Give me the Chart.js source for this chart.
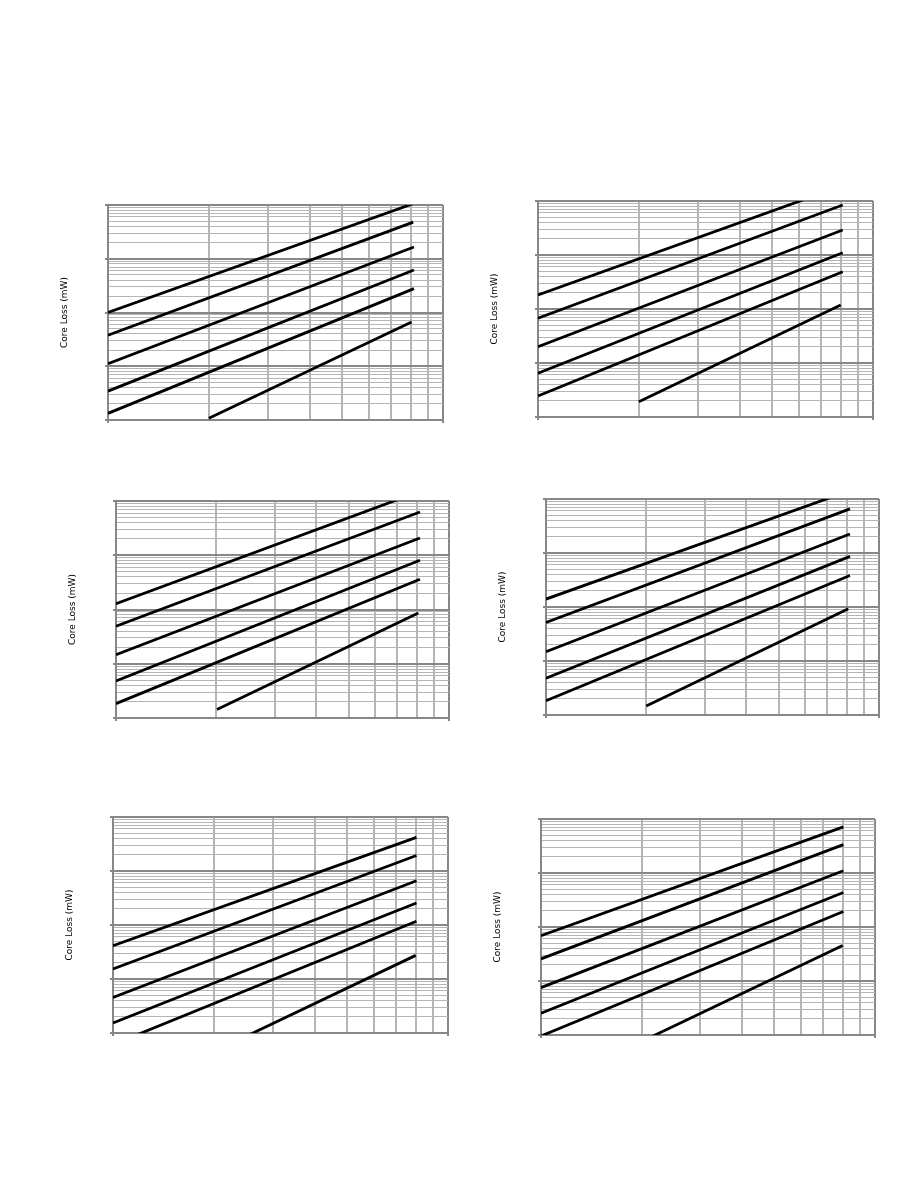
<!DOCTYPE html>
<html><head><meta charset="utf-8">
<script src="https://cdn.jsdelivr.net/npm/chart.js@4.4.1/dist/chart.umd.min.js"></script>
<style>
html,body{margin:0;padding:0;background:#fff;}
body{width:918px;height:1188px;position:relative;overflow:hidden;}
canvas.panel{position:absolute;}
</style></head><body>
<canvas id="c1" class="panel"></canvas>
<canvas id="c2" class="panel"></canvas>
<canvas id="c3" class="panel"></canvas>
<canvas id="c4" class="panel"></canvas>
<canvas id="c5" class="panel"></canvas>
<canvas id="c6" class="panel"></canvas>
<script>
// ---- data ----
const xTicks = [10, 20, 30, 40, 50, 60, 70, 80, 90, 100];
const yTicks = [0.1,0.2,0.3,0.4,0.5,0.6,0.7,0.8,0.9,
                1,2,3,4,5,6,7,8,9,
                10,20,30,40,50,60,70,80,90,
                100,200,300,400,500,600,700,800,900,1000];
const yTitle = 'Core Loss (mW)';
// each row: [x start, loss at start, x end, loss at end]
const panel1 = [
  [10, 10.0, 81.4, 1057],
  [10, 3.78, 81.5, 479],
  [10, 1.11, 81.9, 165],
  [10, 0.345, 81.9, 61.7],
  [10, 0.133, 81.9, 27.8],
  [20, 0.108, 80.6, 6.68]
];
const panel2 = [
  [10, 18.2, 81.4, 1929],
  [10, 6.73, 81.2, 843],
  [10, 2.00, 81.2, 290],
  [10, 0.644, 81.2, 110],
  [10, 0.245, 81.2, 49.1],
  [20, 0.192, 80.1, 11.9]
];
const panel3 = [
  [10, 12.8, 81.8, 1503],
  [10, 4.90, 81.8, 627],
  [10, 1.47, 81.8, 208],
  [10, 0.481, 81.8, 80.7],
  [10, 0.184, 81.8, 36.0],
  [20.1, 0.144, 80.9, 8.61]
];
const panel4 = [
  [10, 14.0, 81.3, 1413],
  [10, 5.16, 81.8, 655],
  [10, 1.49, 81.8, 225],
  [10, 0.480, 81.8, 86.5],
  [10, 0.184, 81.8, 38.4],
  [20, 0.147, 80.9, 9.26]
];
const panel5 = [
  [10, 4.14, 80.5, 419],
  [10, 1.53, 80.5, 194],
  [10, 0.456, 80.5, 66.1],
  [10, 0.153, 80.5, 25.5],
  [10, 0.0612, 80.5, 11.7],
  [20, 0.0451, 80.1, 2.74]
];
const panel6 = [
  [10, 6.87, 80.4, 713],
  [10, 2.57, 80.4, 335],
  [10, 0.755, 80.4, 110],
  [10, 0.253, 80.4, 43.6],
  [10, 0.0958, 80.4, 19.4],
  [20, 0.0757, 80.0, 4.54]
];

// ---- layout (plot area left, top, width, height) ----
const plotBoxes = [
  [108, 205, 335, 215],
  [538, 201, 335, 216],
  [116, 501, 333, 217],
  [546, 499, 333, 216],
  [113, 817, 335, 216],
  [541, 819, 334, 216]
];
const panels = [panel1, panel2, panel3, panel4, panel5, panel6];

const DARK = '#878787';
const LIGHT = '#b5b5b5';
const isDecade = v => Math.abs(Math.log10(v) - Math.round(Math.log10(v))) < 1e-9;
const tickDec = ctx => ctx.tick ? isDecade(ctx.tick.value) : true;

panels.forEach((rows, i) => {
  const [L, T, W, H] = plotBoxes[i];
  const cv = document.getElementById('c' + (i + 1));
  cv.width = W + 60; cv.height = H + 20;
  cv.style.left = (L - 50) + 'px';
  cv.style.top = (T - 10) + 'px';
  const datasets = rows.map(r => ({
    data: [{x: r[0], y: r[1]}, {x: r[2], y: r[3]}],
    borderColor: '#000', borderWidth: 2.8, pointRadius: 0, fill: false, tension: 0
  }));
  new Chart(cv, {
    type: 'line',
    data: {datasets},
    options: {
      responsive: false, animation: false, devicePixelRatio: 1,
      layout: {padding: {top: 10, right: 10, bottom: 7, left: 0}},
      plugins: {legend: {display: false}, tooltip: {enabled: false}},
      scales: {
        x: {
          type: 'logarithmic', min: 10, max: 100,
          afterBuildTicks: s => { s.ticks = xTicks.map(v => ({value: v, major: isDecade(v)})); },
          ticks: {display: false, autoSkip: false},
          grid: {color: ctx => tickDec(ctx) ? DARK : LIGHT, lineWidth: 2,
                 tickColor: ctx => tickDec(ctx) ? DARK : 'rgba(0,0,0,0)', tickLength: 3, drawTicks: true},
          border: {display: true, color: DARK, width: 2}
        },
        y: {
          type: 'logarithmic', min: 0.1, max: 1000,
          afterBuildTicks: s => { s.ticks = yTicks.map(v => ({value: v, major: isDecade(v)})); },
          ticks: {display: false, autoSkip: false},
          grid: {color: ctx => tickDec(ctx) ? DARK : LIGHT, lineWidth: ctx => tickDec(ctx) ? 2 : 1,
                 tickColor: ctx => tickDec(ctx) ? DARK : 'rgba(0,0,0,0)', tickLength: 3, drawTicks: true},
          border: {display: true, color: DARK, width: 2},
          title: {display: true, text: yTitle, color: '#000',
                  font: {family: 'DejaVu Sans', size: 9}, padding: {top: 1, bottom: 35.2}}
        }
      }
    }
  });
});
</script>
</body></html>
